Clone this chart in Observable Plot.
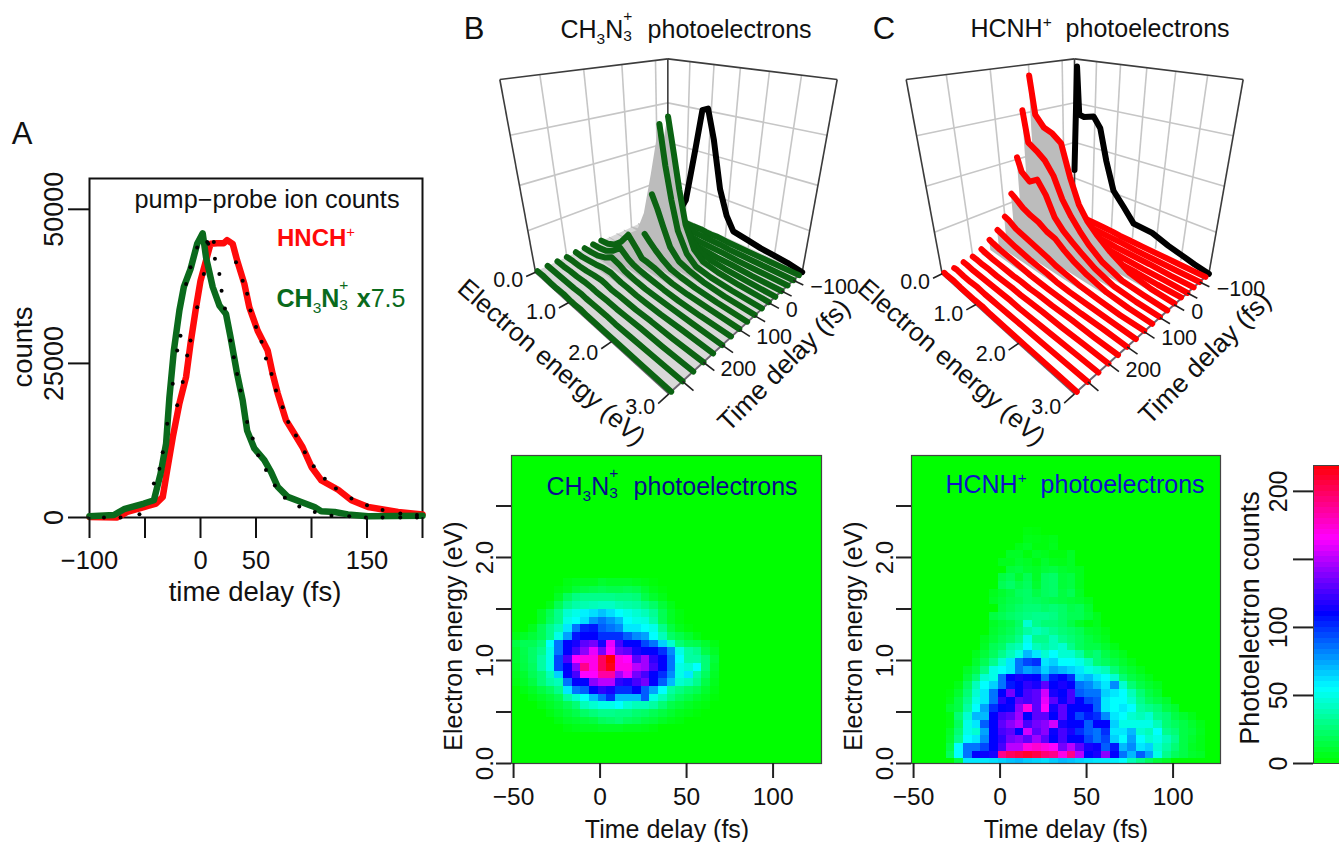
<!DOCTYPE html>
<html><head><meta charset="utf-8">
<style>
html,body{margin:0;padding:0;background:#fff;width:1339px;height:842px;overflow:hidden;font-family:"Liberation Sans",Arial,sans-serif;color:#111}
.p{position:absolute}
.t{position:absolute;white-space:nowrap;transform:translate(-50%,-50%);line-height:1}
.ss{display:inline-block;position:relative;width:.42em;height:1em;vertical-align:baseline}
.ss i{position:absolute;left:0;font-style:normal;font-size:.62em;line-height:1}
.ss .u{top:-.3em}.ss .d{top:.95em}
sub,sup{font-size:.62em;line-height:0}
</style>
<script src="https://cdn.jsdelivr.net/npm/d3@7"></script>
<script src="https://cdn.jsdelivr.net/npm/@observablehq/plot@0.6"></script>
</head><body>
<div id="page"></div>
<script>
// ---------- Panel A : ion counts vs time delay ----------
const greenTime=[-100,-78,-69,-51,-42,-36,-31,-28,-24,-19,-15,-9,-3,2,5,11,17,23,27,33,38,42,48.5,57.5,63.5,69.5,78.6,90.7,102.7,108.7,120.8,132.8,151,200];
const greenCounts=[200,400,1350,2270,2800,7100,12000,19500,27100,33600,37400,40300,44400,46100,42200,37400,34400,33000,29300,23300,19000,14100,11200,9300,7400,5000,3350,2500,1700,1000,900,500,200,300];
const redTime=[-100,-75,-66,-51,-40,-34,-30,-25,-19,-13,-9,-4,0,5,9,15,21,24,29,33,39.5,44,51.5,60.5,65,69.6,77,84.6,92,100,109,124,136,151,178,200];
const redCounts=[100,0,900,1700,2270,3350,7700,13000,18500,22800,28200,34100,38400,41700,44400,44500,44500,45000,44400,41700,37900,34100,30300,27100,23300,20100,15800,13600,11400,8200,6000,4500,2800,1700,900,500];
const dotTime=[-87,-72,-55,-42,-37,-34,-30,-25,-21,-18,-13,-9,-3,6,13,17,19,22,27,30,33,36,42,47,52,59,67,76,89,103,118,134,149,164,180,195,
 -21,-16,-12,-9,-3,3,7,12,32,38,42,45,50,55,59,64,68,74,79,86,94,102,112,122,136,150,164,180,195];
const dotCounts=[0,0,540,5500,7900,10600,15200,21700,27100,29500,37900,40600,43800,44700,42000,39500,36800,33900,28700,26000,23300,20600,15500,12800,10100,7700,5200,3200,1800,900,300,200,0,0,0,0,
 18200,22000,26300,28700,34100,39500,44400,44700,41400,38400,36300,33600,30900,28500,25800,23300,20600,17900,15500,13300,10600,8300,6300,4700,3100,2000,1200,650,400];

// ---------- Panels B, C : waterfalls ----------
const stripTimes=[-125,-100,-75,-50,-25,0,25,50,75,100,125,150,175,200,225,250,275];
const energyB=[0,.2,.4,.6,.8,1,1.12,1.25,1.4,1.6,1.8,2.1,2.5,3];
const stripsB=[
[0,0,1,0,0,1,0,0,1,0,0,0,0,0],[1,1,1,1,1,1,1,1,1,1,0,0,0,0],[2,2,1,2,2,2,2,1,1,1,1,0,0,0],
[2,2,3,5,6,7,6,4,3,2,1,1,0,0],[2,3,8,25,55,70,60,40,20,8,4,2,1,0],
[2,5,20,55,120,195,150,100,52,20,8,4,2,1],[2,3,15,50,115,188,135,90,48,20,8,4,2,1],
[2,3,8,25,55,96,78,55,30,15,10,5,2,1],[2,2,5,12,25,42,34,26,18,10,7,4,2,1],
[2,4,10,22,40,25,15,14,12,8,5,3,2,1],[2,3,6,14,26,16,12,10,8,6,4,2,1,1],[2,3,5,10,18,14,10,8,6,4,3,2,1,0],
[2,2,4,6,9,10,8,6,5,3,2,1,1,0],[1,2,2,3,5,6,5,3,3,2,1,1,0,0],[1,1,2,2,3,3,2,2,2,1,1,1,0,0],
[1,1,1,1,1,2,1,1,1,1,0,0,0,0],[0,1,0,0,1,0,0,1,0,0,0,0,0,0]];
const lineStartB=[0,0,0,0,5,5,5,5,5,0,0,0,0,0,0,0,0];
const blackEnergyB=[0,.3,.5,.69,.81,.93,1.09,1.3,1.49,1.66,1.97,2.24,2.5,2.74,3];
const blackCountsB=[0,5,36,126,187,191,149,76,37,16,12,8,6,4,0];

const energyC=[0,.1,.3,.5,.7,.9,1.1,1.3,1.5,1.8,2.2,2.6,3];
const stripsC=[
[1,1,1,1,1,1,1,0,0,0,0,0,0],[2,2,2,2,1,1,1,1,1,0,0,0,0],[3,3,3,3,2,3,2,2,1,1,1,0,0],
[5,6,5,5,5,4,4,3,3,2,1,1,0],[30,25,22,20,18,14,10,8,6,3,3,2,2],
[236,185,170,165,155,110,75,55,42,26,10,4,2],[192,148,140,130,112,82,62,46,32,17,6,3,1],
[128,108,98,106,88,60,46,36,27,15,5,2,1],[76,72,62,56,52,44,40,30,22,13,5,2,1],
[44,42,34,30,26,22,18,13,10,6,3,1,1],[28,26,22,18,15,12,10,8,5,3,2,1,0],[18,16,13,11,9,7,5,4,3,2,1,1,0],
[9,8,6,5,4,3,3,2,2,1,1,0,0],[4,4,3,3,2,2,2,1,1,1,0,0,0],[2,2,1,1,1,1,1,1,0,0,0,0,0],[0,1,0,0,1,0,0,0,0,0,0,0,0],[0,0,1,0,0,0,1,0,0,0,0,0,0]];
const blackEnergyC=[0,.06,.12,.24,.47,.63,.8,1,1.25,1.5,1.9,2.24,2.5,2.74,3];
const blackCountsC=[77,240,171,169,173,158,110,66,46,25,23,14,9,4,0];

const timeTicks=[-100,-50,0,50,100,150,200,250];
const timeLabels=[-100,0,100,200];
const energyLabels=[0,1,2,3];
const wallTimes=[-100,0,100,200];
const wallEnergies=[.5,1,1.5,2,2.5];
const wallCounts=[62.5,125,187.5];

// view of each box: corners in the panel's own view units
const viewB={back:[682,632],right:[1085,815],front:[685,1180],left:[285,815],topBack:[682,175],topRight:[1190,237],topFront:[685,360],topLeft:[178,237]};
const viewC={back:[672,630],right:[1075,820],front:[672,1180],left:[275,820],topBack:[672,175],topRight:[1178,237],topFront:[672,360],topLeft:[167,237]};
const tMin=-140,tMax=280,eMax=3,zMax=250,perspective=1.22;

// ---------- Heat maps : counts per cell (row = energy bin from row0 up, column = 5 fs bin) ----------
const heatB0=4;
const heatB=[
[0,0,0,0,0,0,3,5,6,6,8,8,8,6,6,5,3],
[0,0,0,0,0,4,8,10,12,14,20,22,25,20,18,14,12,8,5,3],
[0,0,0,0,4,8,12,16,22,26,30,30,28,28,24,22,18,14,10,6,4,2],
[0,0,0,4,8,12,18,25,40,45,50,50,55,45,40,40,35,25,16,12,8,5,3],
[0,0,4,8,12,18,35,45,55,70,85,100,70,70,70,90,50,40,28,20,15,10,6,2],
[0,4,8,14,20,30,60,85,90,110,120,115,100,100,110,90,75,55,35,28,22,18,10,4],
[4,8,14,25,35,40,85,110,110,140,150,150,120,115,125,135,110,90,70,45,40,30,15,6],
[6,10,18,25,40,65,110,125,165,165,185,185,145,160,135,125,110,100,80,50,60,35,20,8],
[8,14,20,35,50,95,110,140,190,170,200,215,170,170,150,145,125,110,85,50,45,55,25,10],
[10,15,22,35,50,95,125,165,170,170,200,220,170,165,130,145,120,110,85,55,35,35,25,12],
[10,16,22,30,50,85,110,125,140,160,135,165,135,130,115,110,110,100,80,50,35,30,15,8],
[14,18,18,25,55,85,110,115,130,135,115,160,125,110,110,95,85,65,45,25,18,16,10,4],
[4,8,12,18,30,50,75,105,110,110,100,100,100,90,80,75,55,40,22,16,10,4],
[0,0,6,18,30,40,60,85,102,105,90,85,80,60,60,55,50,30,14,6,2],
[0,0,0,8,20,30,50,55,62,78,85,78,70,55,50,48,36,18,8,3],
[0,0,0,8,18,30,45,50,58,62,68,62,55,50,45,40,32,18,8,3],
[0,0,0,0,5,18,30,36,38,40,42,42,38,36,34,28,22,12,5],
[0,0,0,0,0,8,20,28,30,30,30,30,28,28,26,16,10,5],
[0,0,0,0,0,3,6,12,14,16,18,16,16,18,16,10,5,2],
[0,0,0,0,0,0,4,6,6,6,10,8,8,8,6,4,2]];
const heatC=[
[0,0,0,0,0,15,60,60,60,62,65,68,70,66,64,62,66,70,68,65,62,60,60,58,55,40,30,20,12,8],
[0,0,0,0,20,55,85,110,112,115,190,200,205,210,205,195,190,170,190,150,110,115,140,110,85,70,90,75,50,30,20,15,10,8],
[0,0,0,0,15,55,85,85,95,110,125,150,150,170,175,170,165,135,150,130,115,112,90,105,70,80,60,65,45,35,25,15,8,5],
[0,0,0,0,10,30,55,60,80,110,120,135,140,130,145,130,110,125,110,110,95,85,95,65,55,75,55,45,50,40,30,15,10,5],
[0,0,0,0,8,25,50,45,75,110,125,130,110,155,130,140,112,125,115,100,90,85,100,60,60,70,45,40,55,30,25,15,12,6],
[0,0,0,0,3,20,50,60,90,110,130,140,150,125,135,140,155,115,110,110,90,110,110,65,50,50,50,50,40,25,20,15,10,5],
[0,0,0,0,3,25,45,70,70,110,125,130,145,110,130,130,110,130,110,95,105,100,80,60,55,45,40,45,30,25,15,10,5],
[0,0,0,0,10,15,35,55,75,100,110,112,140,170,130,165,115,130,110,110,110,90,60,55,60,55,35,30,25,15,10],
[0,0,0,0,4,15,30,50,60,85,120,110,130,125,130,160,130,112,125,110,95,90,60,55,55,45,30,20,15,10],
[0,0,0,0,2,10,25,45,60,85,110,135,110,125,130,155,115,110,125,90,85,85,65,60,55,40,25,15,10],
[0,0,0,0,0,5,20,40,55,65,85,105,110,120,115,130,110,115,110,85,80,70,60,80,45,25,15,10,6],
[0,0,0,0,0,0,12,25,45,50,85,110,115,112,110,85,105,110,100,65,70,60,55,45,25,15,10,5],
[0,0,0,0,0,0,8,15,28,50,55,60,85,75,80,65,75,70,65,60,50,45,40,25,15,10,5],
[0,0,0,0,0,0,0,10,18,30,45,60,85,95,100,60,65,55,55,50,40,25,20,15,10,5],
[0,0,0,0,0,0,0,6,12,20,30,40,50,70,60,45,55,45,45,35,20,25,15,10,6],
[0,0,0,0,0,0,0,0,8,18,22,35,40,55,40,35,40,45,30,20,15,15,10,5],
[0,0,0,0,0,0,0,0,6,12,18,22,30,50,30,30,40,30,25,20,14,10,6],
[0,0,0,0,0,0,0,0,0,10,14,18,25,35,40,35,30,25,22,18,10,8,4],
[0,0,0,0,0,0,0,0,0,8,12,15,22,45,30,25,25,22,15,8,3,6],
[0,0,0,0,0,0,0,0,0,14,18,22,25,28,30,30,28,22,18,18,12,6],
[0,0,0,0,0,0,0,0,0,0,14,18,22,25,25,22,25,22,16,18,10],
[0,0,0,0,0,0,0,0,0,8,12,16,18,22,20,18,16,14,12,10,6],
[0,0,0,0,0,0,0,0,0,6,10,14,20,22,15,20,22,14,18,8],
[0,0,0,0,0,0,0,0,0,0,18,22,16,20,10,20,22,12,14,6],
[0,0,0,0,0,0,0,0,0,0,14,18,10,18,8,20,22,12,14,6],
[0,0,0,0,0,0,0,0,0,0,0,12,14,10,8,12,14,10,8,6],
[0,0,0,0,0,0,0,0,0,0,6,6,10,8,4,10,6,5,8],
[0,0,0,0,0,0,0,0,0,0,0,8,8,3,8,6,3,3,8],
[0,0,0,0,0,0,0,0,0,0,0,0,5,8,3,3,6],
[0,0,0,0,0,0,0,0,0,0,0,0,0,5,4,3,5],
[0,0,0,0,0,0,0,0,0,0,0,0,0,3,2]];
const cellFs=5,cellEv=.0748,heatStart=-51.2,firstBinC=.045;
const colorStops=[0,55,110,165,220];
const colorRange=["#00ff00","#00ffff","#0000ff","#ff00ff","#ff0000"];
const barSteps=d3.range(0,220,4);

// ---------- helpers ----------
const FONT='"Liberation Sans",Arial,sans-serif';
const page=document.getElementById("page");
const minus=d=>String(d).replace("-","\u2212");
const darkGreen="#0a6a1c",red="#ff0a0a";
function mount(svg,left,top){svg.classList.add("p");svg.style.left=left+"px";svg.style.top=top+"px";svg.style.overflow="visible";svg.style.background="none";page.appendChild(svg);}
function label(html,x,y,size,extra=""){const d=document.createElement("div");d.className="t";d.innerHTML=html;d.style.cssText=`left:${x}px;top:${y}px;font-size:${size}px;${extra}`;page.appendChild(d);}
const baseStyle={fontFamily:FONT,background:"transparent",overflow:"visible"};

// ---------- Panel A ----------
mount(Plot.plot({
  width:440,height:430,marginLeft:89,marginRight:18,marginTop:28,marginBottom:63,style:baseStyle,
  x:{domain:[-100,200]},y:{domain:[0,55000]},
  marks:[
    Plot.frame({stroke:"#111",strokeWidth:2}),
    Plot.line(redTime,{x:d=>d,y:(d,i)=>redCounts[i],stroke:red,strokeWidth:6.5,strokeLinejoin:"round"}),
    Plot.line(greenTime,{x:d=>d,y:(d,i)=>greenCounts[i],stroke:darkGreen,strokeWidth:6.5,strokeLinejoin:"round"}),
    Plot.dot(dotTime,{x:d=>d,y:(d,i)=>dotCounts[i],r:2,fill:"#000"}),
    Plot.axisX({ticks:[-100,-50,0,50,100,150,200],tickSize:21,tickPadding:12,strokeWidth:2,stroke:"#111",fontSize:25.5,label:null,color:"#111",
      tickFormat:d=>[-100,0,50,150].includes(d)?minus(d):""}),
    Plot.axisY({ticks:[0,25000,50000],tickSize:21,tickPadding:6,tickRotate:-90,strokeWidth:2,stroke:"#111",fontSize:27,label:null,color:"#111",tickFormat:d=>String(d)})
  ]
}),0,150);
label("A",22,133,31);
label("counts",23,347,27.5,"transform:translate(-50%,-50%) rotate(-90deg)");
label("time delay (fs)",255,592,27.5);
label("pump\u2212probe ion counts",267,200,25.3);
label('HNCH<sup style="font-weight:normal">+</sup>',316,238,24,`font-weight:bold;color:${red}`);
label('CH<sub style="font-weight:normal">3</sub>N<span class="ss" style="font-weight:normal"><i class="u">+</i><i class="d">3</i></span> x<span style="font-weight:normal">7.5</span>',341,296,25,`font-weight:bold;color:${darkGreen}`);

// ---------- 3-D waterfalls ----------
function quad(p0,p1,p2,p3){
  const [x0,y0]=p0,[x1,y1]=p1,[x2,y2]=p2,[x3,y3]=p3;
  const dx1=x1-x2,dx2=x3-x2,sx=x0-x1+x2-x3,dy1=y1-y2,dy2=y3-y2,sy=y0-y1+y2-y3;
  const det=dx1*dy2-dx2*dy1,g=(sx*dy2-dx2*sy)/det,h=(dx1*sy-sx*dy1)/det;
  const a=x1-x0+g*x1,b=x3-x0+h*x3,c=x0,d=y1-y0+g*y1,e=y3-y0+h*y3,f=y0;
  return (s,r)=>{const q=g*s+h*r+1;return [(a*s+b*r+c)/q,(d*s+e*r+f)/q];};
}
function makeProjection(v){
  const floor=quad(v.back,v.right,v.front,v.left),top=quad(v.topBack,v.topRight,v.topFront,v.topLeft);
  return (E,t,z=0)=>{const s=E/eMax,r=(t-tMin)/(tMax-tMin),w=z/zMax,m=w/(perspective-(perspective-1)*w);
    const A=floor(s,r),B=top(s,r);return [A[0]+m*(B[0]-A[0]),A[1]+m*(B[1]-A[1])];};
}
function waterfall({view,energy,strips,lineStart,blackE,blackC,color,floorFill,W}){
  const P=makeProjection(view);
  const seg=(data,a,b,opt)=>Plot.link(data,{x1:d=>P(...a(d))[0],y1:d=>P(...a(d))[1],x2:d=>P(...b(d))[0],y2:d=>P(...b(d))[1],...opt});
  const grid={stroke:"#c6c6c6",strokeWidth:1.6};
  const edge={stroke:"#3c3c3c",strokeWidth:1.6};
  const marks=[];
  if(floorFill) marks.push(Plot.area([0,eMax],{x1:d=>P(d,tMin)[0],y1:d=>P(d,tMin)[1],x2:d=>P(d,tMax)[0],y2:d=>P(d,tMax)[1],fill:floorFill}));
  marks.push(seg(wallTimes,d=>[0,d,0],d=>[0,d,zMax],grid));
  marks.push(seg(wallEnergies,d=>[d,tMin,0],d=>[d,tMin,zMax],grid));
  marks.push(seg(wallCounts,d=>[0,tMin,d],d=>[0,tMax,d],grid));
  marks.push(seg(wallCounts,d=>[0,tMin,d],d=>[eMax,tMin,d],grid));
  marks.push(seg([0],()=>[0,tMin,zMax],()=>[0,tMax,zMax],edge));
  marks.push(seg([0],()=>[0,tMin,zMax],()=>[eMax,tMin,zMax],edge));
  marks.push(seg([0],()=>[0,tMin,0],()=>[0,tMin,zMax],edge));
  marks.push(seg([0],()=>[0,tMax,0],()=>[0,tMax,zMax],edge));
  marks.push(seg([0],()=>[eMax,tMin,0],()=>[eMax,tMin,zMax],edge));
  marks.push(seg([0],()=>[0,tMax,0],()=>[eMax,tMax,0],{stroke:"#6d6470",strokeWidth:2}));
  marks.push(seg([0],()=>[eMax,tMin,0],()=>[eMax,tMax,0],{stroke:"#6d6470",strokeWidth:2}));
  const bi=d3.range(blackE.length);
  marks.push(Plot.line(bi,{x:k=>P(blackE[k],tMin,blackC[k])[0],y:k=>P(blackE[k],tMin,blackC[k])[1],stroke:"#000",strokeWidth:6,strokeLinejoin:"round"}));
  stripTimes.forEach((t,i)=>{
    const vals=strips[i],idx=d3.range(energy.length);
    marks.push(Plot.area(idx,{x1:k=>P(energy[k],t,0)[0],y1:k=>P(energy[k],t,0)[1],x2:k=>P(energy[k],t,vals[k])[0],y2:k=>P(energy[k],t,vals[k])[1],fill:"#bcbcbc"}));
    marks.push(Plot.line(idx.filter(k=>k>=(lineStart?lineStart[i]:0)),{x:k=>P(energy[k],t,vals[k])[0],y:k=>P(energy[k],t,vals[k])[1],stroke:color,strokeWidth:6,strokeLinejoin:"round"}));
  });
  marks.push(seg(timeTicks,d=>[eMax,d,0],d=>[eMax+.16,d,0],{stroke:"#222",strokeWidth:1.6}));
  marks.push(seg(energyLabels,d=>[d,tMax,0],d=>[d,tMax+22,0],{stroke:"#222",strokeWidth:1.6}));
  marks.push(Plot.text(energyLabels,{x:d=>P(d,tMax+22)[0],y:d=>P(d,tMax+22)[1],text:d=>d.toFixed(1),textAnchor:"end",dx:-3,dy:4,fontSize:21.5,fill:"#111"}));
  marks.push(Plot.text(timeLabels,{x:d=>P(eMax,d)[0],y:d=>P(eMax,d)[1],text:minus,textAnchor:"start",dx:17,dy:7,fontSize:21.5,fill:"#111"}));
  return Plot.plot({width:W,height:450,margin:0,style:baseStyle,x:{domain:[0,W*3],axis:null},y:{domain:[0,1350],range:[0,450],axis:null},marks});
}
mount(waterfall({view:viewB,energy:energyB,strips:stripsB,lineStart:lineStartB,blackE:blackEnergyB,blackC:blackCountsB,color:"#0b6312",floorFill:"#d8d8d8",W:420}),440,0);
mount(waterfall({view:viewC,energy:energyC,strips:stripsC,lineStart:null,blackE:blackEnergyC,blackC:blackCountsC,color:"#ff0000",floorFill:null,W:430}),850,0);
label("B",474,28,31);
label("C",884,28,31);
label('CH<sub>3</sub>N<span class="ss"><i class="u">+</i><i class="d">3</i></span> &nbsp;photoelectrons',686,27,25);
label('HCNH<sup>+</sup> &nbsp;photoelectrons',1100,28,25);
label("Electron energy (eV)",552,362,26,"transform:translate(-50%,-50%) rotate(41deg)");
label("Time delay (fs)",784,365,26.5,"transform:translate(-50%,-50%) rotate(-45deg)");
label("Electron energy (eV)",952,362,26,"transform:translate(-50%,-50%) rotate(41deg)");
label("Time delay (fs)",1205,358,26.5,"transform:translate(-50%,-50%) rotate(-45deg)");

// ---------- Heat maps ----------
function heat(rows,rowEdge,left,widthFrame,marginLeft){
  const cells=rows.flatMap((row,k)=>row.map((c,i)=>({c,i,k}))).filter(d=>d.c>0);
  const W=marginLeft+widthFrame+60;
  const svg=Plot.plot({
    width:W,height:393,marginLeft,marginRight:60,marginTop:15,marginBottom:70,style:baseStyle,
    x:{domain:[heatStart,heatStart+widthFrame/1.73]},y:{domain:[0,2.99]},
    color:{type:"linear",domain:colorStops,range:colorRange},
    marks:[
      Plot.frame({fill:"#00ff00"}),
      Plot.rect(cells,{x1:d=>heatStart+d.i*cellFs,x2:d=>heatStart+(d.i+1)*cellFs,y1:d=>rowEdge(d.k),y2:d=>rowEdge(d.k+1),fill:d=>d.c,shapeRendering:"crispEdges"}),
      Plot.frame({stroke:"#444",strokeWidth:1.2}),
      Plot.axisX({ticks:[-50,0,50,100],tickSize:15,tickPadding:9,strokeWidth:2,stroke:"#222",fontSize:24.5,label:null,color:"#111",tickFormat:minus}),
      Plot.axisY({ticks:[0,.5,1,1.5,2,2.5],tickSize:15,tickPadding:4,tickRotate:-90,strokeWidth:2,stroke:"#222",fontSize:24,label:null,color:"#111",tickFormat:d=>Number.isInteger(d)?d.toFixed(1):""})
    ]});
  mount(svg,left,440);
}
heat(heatB,k=>(k+heatB0)*cellEv,440,310,71);
heat(heatC,k=>k===0?0:firstBinC+(k-1)*cellEv,840,309,71);
label('CH<sub>3</sub>N<span class="ss"><i class="u">+</i><i class="d">3</i></span> &nbsp;photoelectrons',672,484,25,"color:#0b0b8c");
label('HCNH<sup>+</sup> &nbsp;photoelectrons',1075,484,25,"color:#1010c8");
label("Time delay (fs)",667,829,25);
label("Time delay (fs)",1066,829,25);
label("Electron energy (eV)",453,636,25,"transform:translate(-50%,-50%) rotate(-90deg)");
label("Electron energy (eV)",853,636,25,"transform:translate(-50%,-50%) rotate(-90deg)");

// ---------- Colour bar ----------
mount(Plot.plot({
  width:119,height:330,marginLeft:93,marginRight:0,marginTop:15,marginBottom:17,style:baseStyle,
  x:{domain:[0,1],axis:null},y:{domain:[0,219]},
  color:{type:"linear",domain:colorStops,range:colorRange},
  marks:[
    Plot.rect(barSteps,{x1:0,x2:1,y1:d=>d,y2:d=>Math.min(219,d+4),fill:d=>d+2,shapeRendering:"crispEdges"}),
    Plot.frame({stroke:"#444",strokeWidth:1}),
    Plot.axisY({ticks:[0,50,100,150,200],tickSize:20,tickPadding:7,tickRotate:-90,strokeWidth:2,stroke:"#222",fontSize:25,label:null,color:"#111",
      tickFormat:d=>d===150?"":String(d)})
  ]
}),1220,450);
label("Photoelectron counts",1250,618,27,"transform:translate(-50%,-50%) rotate(-90deg)");
</script>
</body></html>
